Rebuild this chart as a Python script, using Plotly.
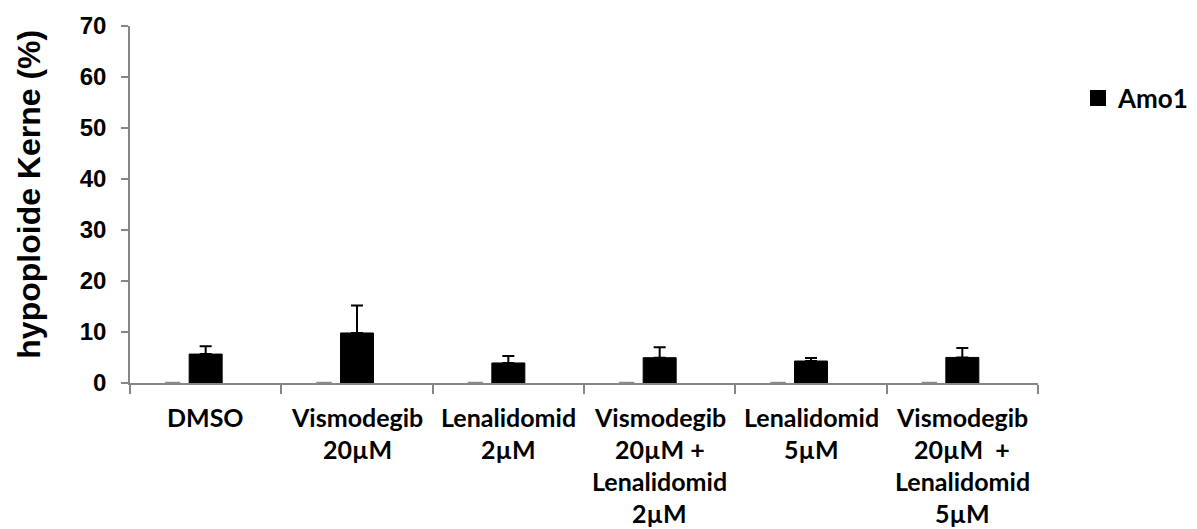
import plotly.graph_objects as go

# Treatment groups (line breaks as they appear under the axis)
categories = [
    "DMSO",
    "Vismodegib<br>20µM",
    "Lenalidomid<br>2µM",
    "Vismodegib<br>20µM +<br>Lenalidomid<br>2µM",
    "Lenalidomid<br>5µM",
    "Vismodegib<br>20µM  +<br>Lenalidomid<br>5µM",
]

# Hypoploid nuclei (%) for Amo1 and the upper error (SD)
amo1_values = [5.67, 9.81, 3.93, 4.96, 4.31, 5.01]
amo1_error = [1.56, 5.40, 1.36, 2.07, 0.59, 1.83]

# Empty companion series (drawn as a flat mark at zero)
empty_series = [0, 0, 0, 0, 0, 0]

y_ticks = [0, 10, 20, 30, 40, 50, 60, 70]

bar_width = 0.218
positions = list(range(len(categories)))

fig = go.Figure()

fig.add_trace(go.Scatter(
    x=[p - bar_width for p in positions],
    y=empty_series,
    mode="markers",
    marker=dict(symbol="line-ew", size=11, line=dict(color="#8c8c8c", width=2.5)),
    showlegend=False,
    hoverinfo="skip",
))

fig.add_trace(go.Bar(
    x=positions,
    y=amo1_values,
    width=bar_width,
    marker=dict(color="black", line=dict(color="black", width=1)),
    error_y=dict(
        type="data",
        symmetric=False,
        array=amo1_error,
        arrayminus=[0] * len(amo1_error),
        color="black",
        thickness=2,
        width=6,
    ),
    name="Amo1",
    legendgroup="amo1",
    showlegend=False,
))

# Legend entry for Amo1 with a larger square swatch
fig.add_trace(go.Scatter(
    x=[None], y=[None],
    mode="markers",
    marker=dict(symbol="square", size=16, color="black"),
    name="Amo1",
    legendgroup="amo1",
    showlegend=True,
))

label_font = dict(family="Lato", size=25, color="black", weight="bold")
line_step = 32
for pos, label in zip(positions, categories):
    for j, line in enumerate(label.split("<br>")):
        fig.add_annotation(
            x=pos, xref="x",
            y=0, yref="paper",
            yanchor="middle", xanchor="center",
            yshift=-34 - j * line_step,
            text="<b>" + line + "</b>",
            showarrow=False,
            font=label_font,
        )

fig.add_annotation(
    x=0, xref="paper", xanchor="center", xshift=-101,
    y=0.5275, yref="paper", yanchor="middle",
    text="<b>hypoploide Kerne (%)</b>",
    textangle=-90,
    showarrow=False,
    font=dict(family="Liberation Sans", size=32, color="black"),
)

fig.update_layout(
    width=1197,
    height=529,
    margin=dict(l=130, r=159, t=23, b=146, pad=0),
    paper_bgcolor="white",
    plot_bgcolor="white",
    showlegend=True,
    legend=dict(
        xref="container", yref="container",
        x=1078 / 1197, y=1 - 98 / 529,
        xanchor="left", yanchor="middle",
        font=dict(family="Lato", size=26, color="black", weight="bold"),
        bgcolor="rgba(0,0,0,0)",
        itemsizing="trace",
    ),
    xaxis=dict(
        range=[-0.5, len(categories) - 0.5],
        tickmode="array",
        tickvals=[p - 0.5 for p in positions] + [len(categories) - 0.5],
        ticktext=[""] * (len(categories) + 1),
        ticks="outside",
        ticklen=9,
        tickwidth=1.5,
        tickcolor="#868686",
        showline=True,
        linecolor="#868686",
        linewidth=1.5,
        showgrid=False,
        zeroline=False,
        fixedrange=True,
    ),
    yaxis=dict(
        range=[0, 70],
        tickmode="array",
        tickvals=y_ticks,
        ticktext=[str(v) for v in y_ticks],
        ticks="outside",
        ticklen=7,
        tickwidth=1.5,
        tickcolor="#868686",
        showline=True,
        linecolor="#868686",
        linewidth=1.5,
        showgrid=False,
        zeroline=False,
        ticklabelstandoff=10,
        tickfont=dict(family="Liberation Sans", size=24, color="black", weight="bold"),
        fixedrange=True,
    ),
)

fig.write_html("out.html")
